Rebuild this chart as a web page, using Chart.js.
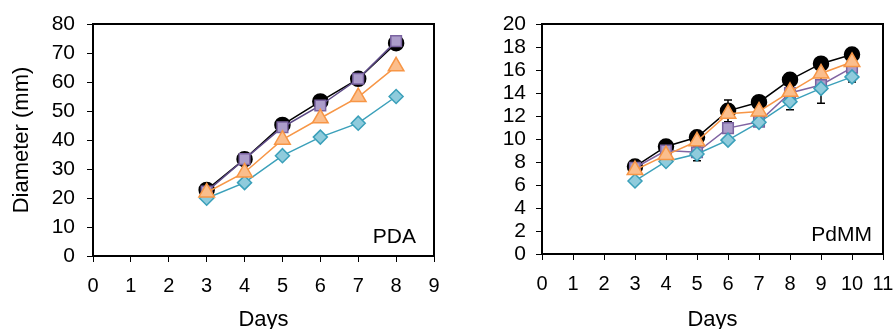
<!DOCTYPE html>
<html>
<head>
<meta charset="utf-8">
<script src="https://cdn.jsdelivr.net/npm/chart.js@4.4.1/dist/chart.umd.min.js"></script>
<style>
  html, body { margin: 0; padding: 0; background: #fff; }
  #wrap { position: relative; width: 896px; height: 329px; overflow: hidden; }
  .panel { position: absolute; top: 0; width: 448px; height: 329px; }
</style>
</head>
<body>
<div id="wrap">
  <div class="panel" style="left:0"><canvas id="pda" width="448" height="329"></canvas></div>
  <div class="panel" style="left:448px"><canvas id="pdmm" width="448" height="329"></canvas></div>
</div>
<script>
// ── PDA (left) ─────────────────────────────────────────
const pdaDays    = [3, 4, 5, 6, 7, 8];
const pdaCircle  = [22.8, 33.4, 45.2, 53.3, 61.1, 73.4];
const pdaSquare  = [22.2, 33.4, 44.4, 51.9, 61.1, 74.1];
const pdaTri     = [21.9, 28.8, 40.1, 47.5, 54.8, 65.4];
const pdaDiamond = [19.9, 25.3, 34.6, 41.0, 45.8, 55.0];

// ── PdMM (right) ───────────────────────────────────────
const pdmmDays    = [3, 4, 5, 6, 7, 8, 9, 10];
const pdmmCircle  = [7.6, 9.35, 10.15, 12.45, 13.2, 15.15, 16.55, 17.35];
const pdmmSquare  = [7.5, 9.0, 8.85, 10.95, 11.5, 14.0, 14.7, 16.2];
const pdmmTri     = [7.3, 8.6, 9.8, 12.2, 12.4, 14.1, 15.7, 16.7];
const pdmmDiamond = [6.35, 8.05, 8.7, 9.9, 11.45, 13.25, 14.4, 15.4];
const pdmmCircleErr  = [0, 0, 0, 0.95, 0.5, 0, 0, 0];
const pdmmDiamondErr = [0, 0, 0.6, 0, 0, 0.7, 1.3, 0.45];

const FONT = "'Liberation Sans', Arial, sans-serif";
const pts = (xs, ys) => xs.map((x, i) => ({ x, y: ys[i] }));

const frameAndLabel = {
  id: "frameAndLabel",
  beforeDatasetsDraw(chart) {
    // error bars, behind the markers
    const { ctx, scales: { x, y } } = chart;
    ctx.save();
    ctx.strokeStyle = "#000";
    ctx.lineWidth = 1.5;
    chart.data.datasets.forEach(ds => {
      if (!ds.errors) return;
      ds.data.forEach((p, i) => {
        const e = ds.errors[i];
        if (!e) return;
        const px = x.getPixelForValue(p.x);
        const y1 = y.getPixelForValue(p.y + e), y2 = y.getPixelForValue(p.y - e);
        ctx.beginPath();
        ctx.moveTo(px, y1); ctx.lineTo(px, y2);
        ctx.moveTo(px - 4, y1); ctx.lineTo(px + 4, y1);
        ctx.moveTo(px - 4, y2); ctx.lineTo(px + 4, y2);
        ctx.stroke();
      });
    });
    ctx.restore();
  },
  afterDraw(chart, args, opts) {
    const { ctx, chartArea: a } = chart;
    ctx.save();
    ctx.strokeStyle = "#000";
    ctx.lineWidth = 2;
    ctx.strokeRect(a.left, a.top, a.right - a.left, a.bottom - a.top);
    ctx.fillStyle = "#000";
    ctx.font = `21px ${FONT}`;
    ctx.textAlign = "right";
    ctx.textBaseline = "alphabetic";
    ctx.fillText(opts.text, a.right - opts.dx, a.bottom - 13);
    ctx.restore();
  },
};

function series(data, style, errors) {
  return Object.assign({
    data,
    errors,
    borderWidth: 1.5,
    pointBorderWidth: 1.5,
    pointHoverRadius: 0,
  }, style);
}

function makeChart(id, cfg) {
  return new Chart(document.getElementById(id), {
    type: "line",
    data: { datasets: cfg.datasets },
    options: {
      responsive: false,
      animation: false,
      events: [],
      layout: { padding: { left: 0, right: cfg.padRight, top: 24, bottom: 0 } },
      plugins: {
        legend: { display: false },
        tooltip: { enabled: false },
        frameAndLabel: { text: cfg.label, dx: cfg.labelDx },
      },
      scales: {
        x: {
          type: "linear",
          min: 0, max: cfg.xMax,
          ticks: { stepSize: 1, autoSkip: false, color: "#000", font: { family: FONT, size: 20 }, padding: 12, maxRotation: 0 },
          grid: { drawOnChartArea: false, drawTicks: true, tickLength: 6, color: "#000", lineWidth: 1 },
          border: { display: true, color: "#000", width: 2 },
          title: { display: true, text: "Days", color: "#000", font: { family: FONT, size: 22, lineHeight: 0.8 }, padding: { top: 0, bottom: 0 } },
          afterFit: s => { s.height = cfg.xHeight; s.paddingLeft = 0; s.paddingRight = 0; },
        },
        y: {
          min: 0, max: cfg.yMax,
          ticks: { stepSize: cfg.yStep, autoSkip: false, color: "#000", font: { family: FONT, size: 21 }, padding: cfg.yPad },
          grid: { drawOnChartArea: false, drawTicks: true, tickLength: 6, color: "#000", lineWidth: 1 },
          border: { display: true, color: "#000", width: 2 },
          title: { display: !!cfg.yTitle, text: cfg.yTitle || "", color: "#000", font: { family: FONT, size: 22, lineHeight: 1 }, padding: { top: 11, bottom: 0 } },
          afterFit: s => { s.width = cfg.yWidth; s.paddingTop = 0; s.paddingBottom = 0; },
        },
      },
    },
    plugins: [frameAndLabel],
  });
}

const circleStyle  = { borderColor: "#000", backgroundColor: "#000", pointStyle: "circle", pointRadius: 7.5, order: 4 };
const squareStyle  = l => ({ borderColor: l, backgroundColor: "#ac9dca", pointBorderColor: "#7a63a0", pointStyle: "rect", pointRadius: 7.5, order: 3 });
const diamondStyle = { borderColor: "#3ba0ba", backgroundColor: "#8fcbdc", pointStyle: "rectRot", pointRadius: 7, order: 2 };
const triStyle     = { borderColor: "#f79646", backgroundColor: "#fbbe8c", pointStyle: "triangle", pointRadius: 9, order: 1 };

makeChart("pda", {
  datasets: [
    series(pts(pdaDays, pdaCircle), circleStyle),
    series(pts(pdaDays, pdaSquare), squareStyle("#5d4a86")),
    series(pts(pdaDays, pdaDiamond), diamondStyle),
    series(pts(pdaDays, pdaTri), triStyle),
  ],
  xMax: 9, yMax: 80, yStep: 10, yPad: 12, yWidth: 93, xHeight: 73, padRight: 14,
  yTitle: "Diameter (mm)", label: "PDA", labelDx: 18,
});

makeChart("pdmm", {
  datasets: [
    series(pts(pdmmDays, pdmmCircle), circleStyle, pdmmCircleErr),
    series(pts(pdmmDays, pdmmSquare), squareStyle("#8064a2")),
    series(pts(pdmmDays, pdmmDiamond), diamondStyle, pdmmDiamondErr),
    series(pts(pdmmDays, pdmmTri), triStyle),
  ],
  xMax: 11, yMax: 20, yStep: 2, yPad: 10, yWidth: 94, xHeight: 75, padRight: 13,
  yTitle: "", label: "PdMM", labelDx: 11,
});
</script>
</body>
</html>
